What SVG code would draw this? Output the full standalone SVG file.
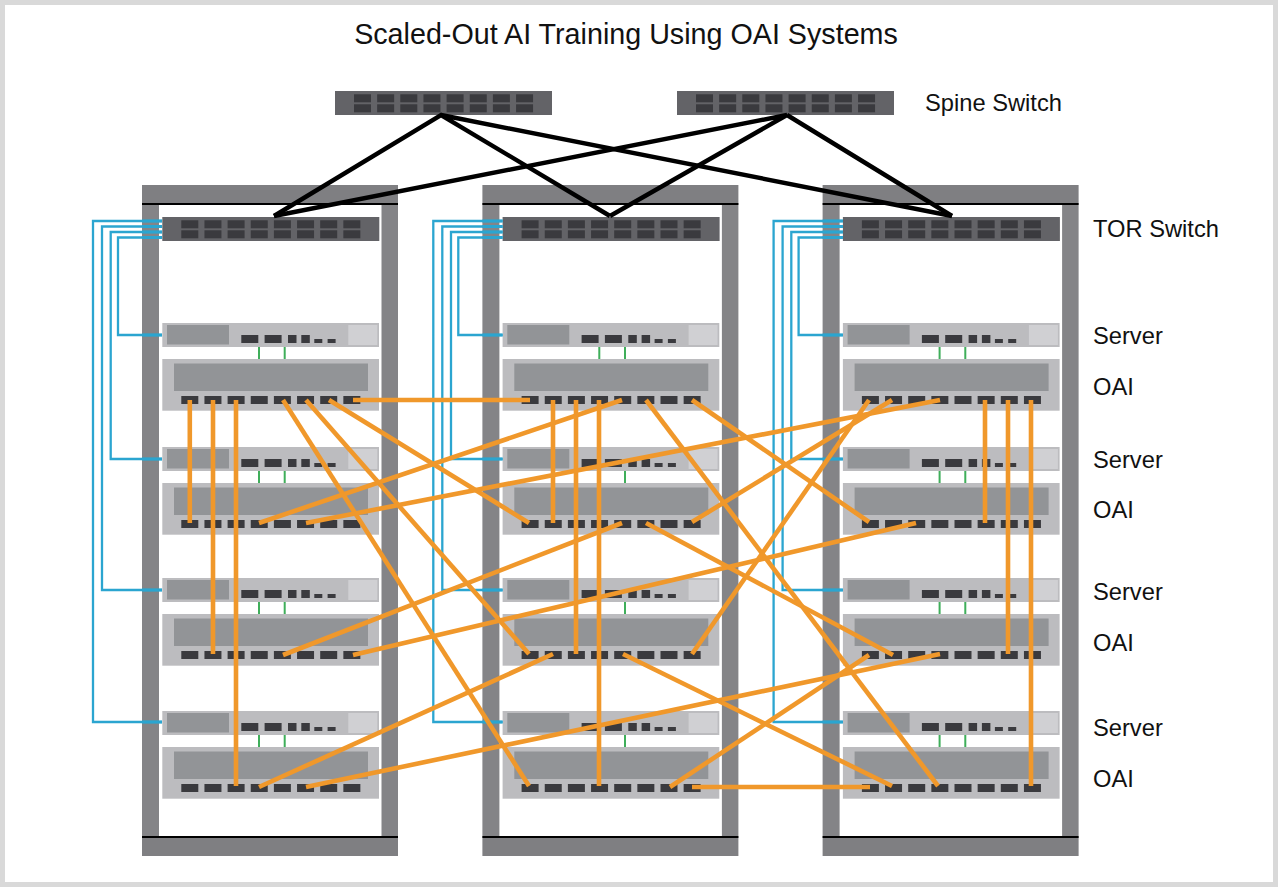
<svg xmlns="http://www.w3.org/2000/svg" xmlns:xlink="http://www.w3.org/1999/xlink" width="1278" height="887" viewBox="0 0 1278 887">
<style>
text{font-family:"Liberation Sans",Arial,sans-serif;fill:#111;font-size:23.7px}
.title{font-size:28.7px}
.post{fill:#848487}
.bar{fill:#7f7f82}
.port{fill:#3a3a3e}
.body{fill:#bcbcbf}
.panel{fill:#929497}
.light{fill:#d0d0d3}
.sw{fill:#636367}
.k{stroke:#000;stroke-width:4.4;fill:none}
.o{stroke:#f0982b;stroke-width:4.6;fill:none}
.b{stroke:#2ba5d0;stroke-width:2.3;fill:none}
.bs{stroke:#2ba5d0;stroke-width:3;fill:none}
.g{stroke:#3fae5a;stroke-width:2;fill:none}
.edge{stroke:#000;stroke-width:2}
</style>
<defs>
<g id="ports8"><rect class="port" x="0" y="0" width="17" height="8"/><rect class="port" x="23.15" y="0" width="17" height="8"/><rect class="port" x="46.3" y="0" width="17" height="8"/><rect class="port" x="69.45" y="0" width="17" height="8"/><rect class="port" x="92.6" y="0" width="17" height="8"/><rect class="port" x="115.75" y="0" width="17" height="8"/><rect class="port" x="138.9" y="0" width="17" height="8"/><rect class="port" x="162.05" y="0" width="17" height="8"/></g>
<g id="switch"><rect class="sw" width="217" height="24"/><use xlink:href="#ports8" href="#ports8" x="19" y="3.3"/><use xlink:href="#ports8" href="#ports8" x="19" y="13.3"/></g>
<g id="server"><rect class="body" width="216.7" height="24"/><rect class="panel" x="4.7" y="2" width="62" height="19.5"/><rect class="light" x="186" y="2" width="29" height="20"/><rect class="port" x="79" y="12" width="17" height="8"/><rect class="port" x="102.3" y="12" width="17" height="8"/><rect class="port" x="125.7" y="12" width="8.5" height="8"/><rect class="port" x="139" y="12" width="8.5" height="8"/><rect class="port" x="152" y="16" width="8" height="4"/><rect class="port" x="165.3" y="16" width="8" height="4"/></g>
<g id="oai"><rect class="body" width="216.7" height="51.7"/><rect class="panel" x="11.7" y="4.5" width="194" height="27.5"/><use xlink:href="#ports8" href="#ports8" x="19" y="37"/></g>
<g id="rack"><rect class="bar" width="256" height="19"/><rect class="post" y="19" width="17" height="633"/><rect class="post" x="239.5" y="19" width="16.5" height="633"/><rect class="bar" y="652" width="256" height="19"/><line class="edge" x1="0" y1="19" x2="256" y2="19"/><line class="edge" x1="0" y1="652" x2="256" y2="652"/></g>
<g id="tails"><path class="g" d="M259 347V359M284.7 347V359"/></g>
</defs>

<rect x="2.5" y="2.5" width="1273" height="882" fill="#fff" stroke="#d9d9d9" stroke-width="5"/>
<g id="title"><text class="title" x="626" y="44" text-anchor="middle">Scaled-Out AI Training Using OAI Systems</text></g>

<g id="rack-1"><use xlink:href="#rack" href="#rack" x="142" y="185"/></g>
<g id="rack-2"><use xlink:href="#rack" href="#rack" x="482.4" y="185"/></g>
<g id="rack-3"><use xlink:href="#rack" href="#rack" x="822.6" y="185"/></g>

<g id="spine-1"><use xlink:href="#switch" href="#switch" x="335" y="91"/></g>
<g id="spine-2"><use xlink:href="#switch" href="#switch" x="677" y="91"/></g>
<g id="tor-1"><use xlink:href="#switch" href="#switch" x="162.3" y="217"/></g>
<g id="tor-2"><use xlink:href="#switch" href="#switch" x="502.6" y="217"/></g>
<g id="tor-3"><use xlink:href="#switch" href="#switch" x="842.9" y="217"/></g>

<g id="server-1-1"><use xlink:href="#server" href="#server" x="162.3" y="323"/></g>
<g id="oai-1-1"><use xlink:href="#oai" href="#oai" x="162.3" y="359"/></g>
<g id="server-1-2"><use xlink:href="#server" href="#server" x="162.3" y="447"/></g>
<g id="oai-1-2"><use xlink:href="#oai" href="#oai" x="162.3" y="483"/></g>
<g id="server-1-3"><use xlink:href="#server" href="#server" x="162.3" y="578"/></g>
<g id="oai-1-3"><use xlink:href="#oai" href="#oai" x="162.3" y="614"/></g>
<g id="server-1-4"><use xlink:href="#server" href="#server" x="162.3" y="711"/></g>
<g id="oai-1-4"><use xlink:href="#oai" href="#oai" x="162.3" y="747"/></g>

<g id="server-2-1"><use xlink:href="#server" href="#server" x="502.6" y="323"/></g>
<g id="oai-2-1"><use xlink:href="#oai" href="#oai" x="502.6" y="359"/></g>
<g id="server-2-2"><use xlink:href="#server" href="#server" x="502.6" y="447"/></g>
<g id="oai-2-2"><use xlink:href="#oai" href="#oai" x="502.6" y="483"/></g>
<g id="server-2-3"><use xlink:href="#server" href="#server" x="502.6" y="578"/></g>
<g id="oai-2-3"><use xlink:href="#oai" href="#oai" x="502.6" y="614"/></g>
<g id="server-2-4"><use xlink:href="#server" href="#server" x="502.6" y="711"/></g>
<g id="oai-2-4"><use xlink:href="#oai" href="#oai" x="502.6" y="747"/></g>

<g id="server-3-1"><use xlink:href="#server" href="#server" x="842.9" y="323"/></g>
<g id="oai-3-1"><use xlink:href="#oai" href="#oai" x="842.9" y="359"/></g>
<g id="server-3-2"><use xlink:href="#server" href="#server" x="842.9" y="447"/></g>
<g id="oai-3-2"><use xlink:href="#oai" href="#oai" x="842.9" y="483"/></g>
<g id="server-3-3"><use xlink:href="#server" href="#server" x="842.9" y="578"/></g>
<g id="oai-3-3"><use xlink:href="#oai" href="#oai" x="842.9" y="614"/></g>
<g id="server-3-4"><use xlink:href="#server" href="#server" x="842.9" y="711"/></g>
<g id="oai-3-4"><use xlink:href="#oai" href="#oai" x="842.9" y="747"/></g>

<g id="connectors">
<g id="blue-links">
<path class="b" d="M162 221H93V722H162M162 226.5H102V590H162M162 232H110.7V459H162M162 237.5H118V335H162"/>
<path class="bs" d="M142 221H162M142 226.5H162M142 232H162M142 237.5H162M142 335H162M142 459H162M142 590H162M142 722H162"/>
<path class="b" d="M502.6 221H433.3V722H502.6M502.6 226.5H442.3V590H502.6M502.6 232H451V459H502.6M502.6 237.5H458.3V335H502.6"/>
<path class="bs" d="M482.4 221H502.6M482.4 226.5H502.6M482.4 232H502.6M482.4 237.5H502.6M482.4 335H502.6M482.4 459H502.6M482.4 590H502.6M482.4 722H502.6"/>
<path class="b" d="M842.9 221H773.6V722H842.9M842.9 226.5H782.6V590H842.9M842.9 232H791.3V459H842.9M842.9 237.5H798.6V335H842.9"/>
<path class="bs" d="M822.6 221H842.9M822.6 226.5H842.9M822.6 232H842.9M822.6 237.5H842.9M822.6 335H842.9M822.6 459H842.9M822.6 590H842.9M822.6 722H842.9"/>
</g>
<g id="green-links">
<use xlink:href="#tails" href="#tails"/><use xlink:href="#tails" href="#tails" y="124"/><use xlink:href="#tails" href="#tails" y="255"/><use xlink:href="#tails" href="#tails" y="388"/>
<use xlink:href="#tails" href="#tails" x="340.3"/><use xlink:href="#tails" href="#tails" x="340.3" y="124"/><use xlink:href="#tails" href="#tails" x="340.3" y="255"/><use xlink:href="#tails" href="#tails" x="340.3" y="388"/>
<use xlink:href="#tails" href="#tails" x="680.6"/><use xlink:href="#tails" href="#tails" x="680.6" y="124"/><use xlink:href="#tails" href="#tails" x="680.6" y="255"/><use xlink:href="#tails" href="#tails" x="680.6" y="388"/>
</g>
<g id="spine-links">
<path class="k" d="M274 216L441 115L610 216M441 115L952 216"/>
<path class="k" d="M274 216L787 115L610 216M787 115L952 216"/>
</g>
<g id="oai-links">
<line class="o" x1="189.8" y1="400" x2="189.8" y2="523"/>
<line class="o" x1="213" y1="400" x2="213" y2="654"/>
<line class="o" x1="236" y1="400" x2="236" y2="786"/>
<line class="o" x1="283" y1="400" x2="529" y2="786"/>
<line class="o" x1="306" y1="400" x2="529" y2="654"/>
<line class="o" x1="329" y1="400" x2="529" y2="523"/>
<line class="o" x1="353" y1="400" x2="530" y2="400"/>
<line class="o" x1="259" y1="523" x2="622" y2="400"/>
<line class="o" x1="306" y1="523" x2="940" y2="400"/>
<line class="o" x1="283" y1="655" x2="622" y2="523"/>
<line class="o" x1="353" y1="655" x2="916" y2="523"/>
<line class="o" x1="259" y1="787" x2="553" y2="654"/>
<line class="o" x1="306" y1="787" x2="940" y2="654"/>
<line class="o" x1="553" y1="400" x2="553" y2="523"/>
<line class="o" x1="576" y1="400" x2="576" y2="654"/>
<line class="o" x1="599" y1="400" x2="599" y2="786"/>
<line class="o" x1="646" y1="400" x2="938" y2="786"/>
<line class="o" x1="692" y1="400" x2="869" y2="522"/>
<line class="o" x1="692" y1="522" x2="892" y2="400"/>
<line class="o" x1="692" y1="654" x2="869" y2="400"/>
<line class="o" x1="646" y1="523" x2="893" y2="655"/>
<line class="o" x1="623" y1="654" x2="892" y2="786"/>
<line class="o" x1="670" y1="787" x2="869" y2="655"/>
<line class="o" x1="692" y1="787" x2="870" y2="787"/>
<line class="o" x1="985" y1="400" x2="985" y2="523"/>
<line class="o" x1="1008" y1="400" x2="1008" y2="654"/>
<line class="o" x1="1031" y1="400" x2="1031" y2="786"/>
</g>
</g>

<g id="labels">
<text x="925" y="111">Spine Switch</text>
<text x="1093" y="237">TOR Switch</text>
<text x="1093" y="344">Server</text>
<text x="1093" y="395">OAI</text>
<text x="1093" y="468">Server</text>
<text x="1093" y="518">OAI</text>
<text x="1093" y="600">Server</text>
<text x="1093" y="651">OAI</text>
<text x="1093" y="736">Server</text>
<text x="1093" y="787">OAI</text>
</g>
</svg>
